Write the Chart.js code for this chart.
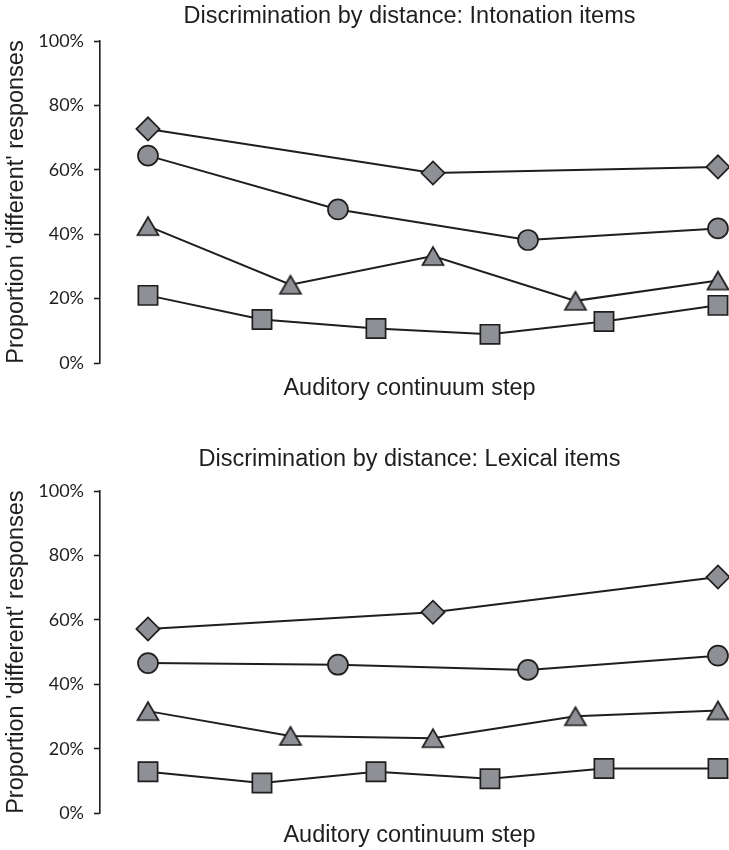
<!DOCTYPE html>
<html>
<head>
<meta charset="utf-8">
<title>Discrimination by distance</title>
<script src="https://cdn.jsdelivr.net/npm/chart.js@4.4.1/dist/chart.umd.min.js"></script>
<style>
  html, body { margin: 0; padding: 0; background: #ffffff; overflow: hidden; }
  #wrap { position: relative; width: 729px; height: 850px; }
  canvas { position: absolute; left: 0; }
  #top { top: 0; }
  #bottom { top: 425px; }
</style>
</head>
<body>
<div id="wrap">
  <canvas id="top" width="729" height="425"></canvas>
  <canvas id="bottom" width="729" height="425"></canvas>
</div>
<script>
// Relative position of each comparison along the continuum (0 = first, 1 = last)
const stepsSquare   = [0, 0.2, 0.4, 0.6, 0.8, 1];
const stepsTriangle = [0, 0.25, 0.5, 0.75, 1];
const stepsCircle   = [0, 0.3333, 0.6667, 1];
const stepsDiamond  = [0, 0.5, 1];

// Proportion of 'different' responses (%), intonation items
const intonationSquare   = [21.0, 13.5, 10.7, 8.9, 12.9, 17.9];
const intonationTriangle = [42.5, 24.3, 33.2, 19.3, 25.6];
const intonationCircle   = [64.4, 47.7, 38.2, 41.8];
const intonationDiamond  = [72.7, 59.0, 60.9];

// Proportion of 'different' responses (%), lexical items
const lexicalSquare   = [12.9, 9.4, 12.9, 10.7, 13.9, 13.9];
const lexicalTriangle = [31.7, 24.0, 23.3, 30.1, 31.9];
const lexicalCircle   = [46.6, 46.1, 44.5, 48.9];
const lexicalDiamond  = [57.2, 62.4, 73.3];

const yTicks = [0, 20, 40, 60, 80, 100];

const INK = '#1e1e1e';
const FILL = '#8e9095';
const SANS = '"Liberation Sans", Arial, sans-serif';

// Triangle marker centred on its bounding box
function triangleMarker() {
  const c = document.createElement('canvas');
  c.width = 26; c.height = 24;
  const g = c.getContext('2d');
  g.beginPath();
  g.moveTo(13, 3);
  g.lineTo(23.5, 21);
  g.lineTo(2.5, 21);
  g.closePath();
  g.fillStyle = FILL;
  g.fill();
  g.lineWidth = 1.7;
  g.strokeStyle = INK;
  g.lineJoin = 'miter';
  g.stroke();
  return c;
}
const triStyle = triangleMarker();

function pts(xs, ys) {
  return xs.map((x, i) => ({ x: x, y: ys[i] }));
}

function series(xs, ys, style, radius) {
  return {
    data: pts(xs, ys),
    borderColor: INK,
    borderWidth: 2,
    pointStyle: style,
    pointRadius: radius,
    pointHoverRadius: radius,
    pointBackgroundColor: FILL,
    pointBorderColor: INK,
    pointBorderWidth: 1.7,
    tension: 0,
    fill: false,
    clip: false
  };
}

function makeChart(id, titleText, sq, tr, ci, di, lay) {
  new Chart(document.getElementById(id), {
    type: 'line',
    data: {
      datasets: [
        series(stepsSquare, sq, 'rect', 13.6),
        series(stepsTriangle, tr, triStyle, 12),
        series(stepsCircle, ci, 'circle', 10),
        series(stepsDiamond, di, 'rectRot', 11.6)
      ]
    },
    options: {
      responsive: false,
      animation: false,
      devicePixelRatio: 1,
      layout: {
        autoPadding: false,
        padding: { left: 0, right: 10, top: 0, bottom: lay.bottomPad }
      },
      plugins: {
        legend: { display: false },
        tooltip: { enabled: false },
        title: {
          display: true,
          text: titleText,
          fullSize: false,
          color: INK,
          font: { family: SANS, size: 23.5, weight: 'normal' },
          padding: { top: lay.titleTop, bottom: lay.titleBottom }
        }
      },
      scales: {
        x: {
          type: 'linear',
          min: -0.0842,
          max: 1.0018,
          grid: { display: false, drawTicks: false },
          border: { display: false },
          ticks: { display: false },
          title: {
            display: true,
            text: 'Auditory continuum step',
            color: INK,
            font: { family: SANS, size: 23.5 },
            padding: { top: lay.xTitleTop, bottom: 0 }
          }
        },
        y: {
          min: 0,
          max: 100,
          afterFit: s => { s.width = 100; },
          afterBuildTicks: s => { s.ticks = yTicks.map(v => ({ value: v })); },
          grid: {
            display: true,
            drawOnChartArea: false,
            drawTicks: true,
            tickLength: 6,
            tickWidth: 1.6,
            tickColor: INK
          },
          border: { display: true, color: INK, width: 1.6 },
          ticks: {
            padding: 10,
            color: INK,
            font: { family: 'Lato, "Open Sans", sans-serif', size: 18 },
            callback: v => v + '%'
          },
          title: {
            display: true,
            text: "Proportion 'different' responses",
            color: INK,
            font: { family: SANS, size: 23.5 },
            padding: { top: 2.8, bottom: 0 }
          }
        }
      }
    }
  });
}

makeChart('top', 'Discrimination by distance: Intonation items',
  intonationSquare, intonationTriangle, intonationCircle, intonationDiamond,
  { titleTop: 2.3, titleBottom: 10.5, xTitleTop: 11.3, bottomPad: 22.5 });

makeChart('bottom', 'Discrimination by distance: Lexical items',
  lexicalSquare, lexicalTriangle, lexicalCircle, lexicalDiamond,
  { titleTop: 20.5, titleBottom: 17.3, xTitleTop: 8.5, bottomPad: 0 });
</script>
</body>
</html>
